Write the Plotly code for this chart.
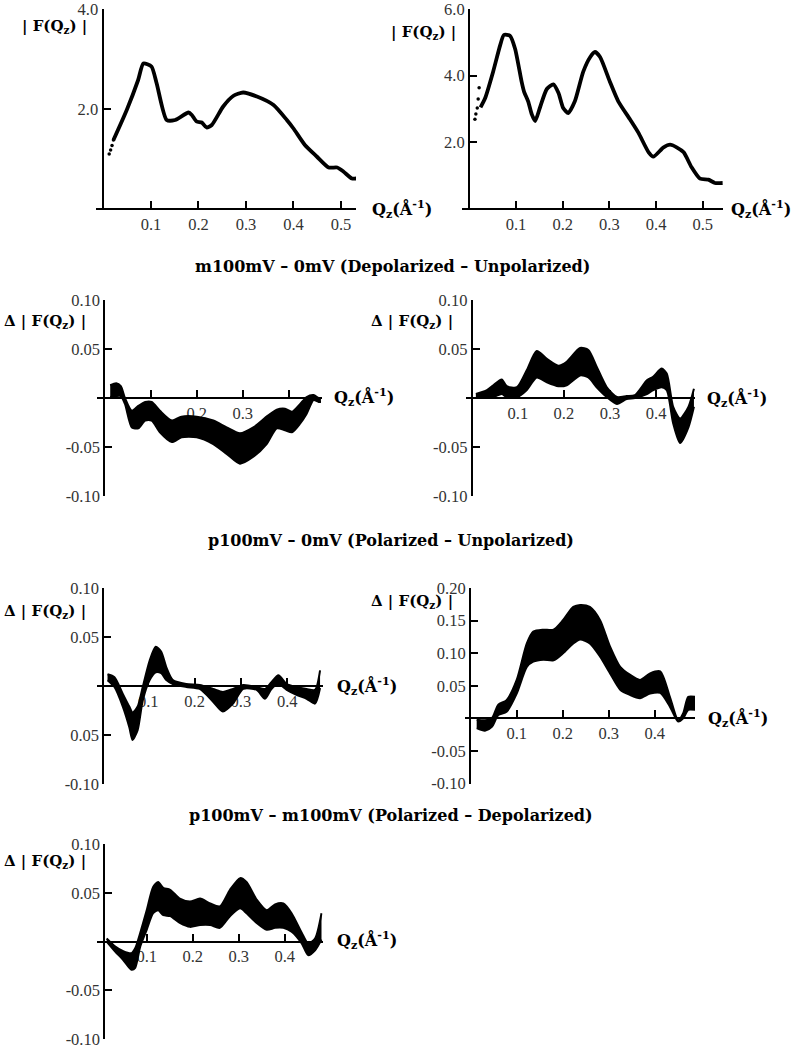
import plotly.graph_objects as go

W, H = 796, 1049

# ---------------- data ----------------
# Panel 1: |F(Qz)| (left)
q1_dots = [0.012, 0.015, 0.018, 0.021]
f1_dots = [1.10, 1.18, 1.27, 1.38]
q1 = [0.021, 0.049, 0.073, 0.084, 0.101, 0.112, 0.133, 0.151, 0.179, 0.186, 0.196, 0.207,
      0.217, 0.228, 0.252, 0.273, 0.294, 0.323, 0.358, 0.386, 0.400, 0.424, 0.449, 0.474,
      0.492, 0.505, 0.523, 0.532]
f1 = [1.38, 1.98, 2.58, 2.91, 2.85, 2.51, 1.78, 1.78, 1.93, 1.88, 1.75, 1.73,
      1.63, 1.68, 2.05, 2.26, 2.33, 2.25, 2.08, 1.78, 1.61, 1.28, 1.05, 0.83,
      0.83, 0.75, 0.61, 0.61]

# Panel 2: |F(Qz)| (right)
q2_dots = [0.012, 0.014, 0.017, 0.019, 0.021]
f2_dots = [2.69, 2.85, 3.03, 3.30, 3.64]
q2 = [0.024, 0.034, 0.051, 0.066, 0.074, 0.087, 0.098, 0.112, 0.117, 0.126, 0.134, 0.141,
      0.151, 0.166, 0.180, 0.191, 0.201, 0.212, 0.226, 0.244, 0.259, 0.269, 0.280, 0.301,
      0.319, 0.344, 0.362, 0.384, 0.394, 0.416, 0.430, 0.444, 0.459, 0.476, 0.494, 0.512,
      0.526, 0.543]
f2 = [3.05, 3.33, 4.12, 4.91, 5.22, 5.20, 4.81, 3.82, 3.53, 3.23, 2.83, 2.64,
      3.03, 3.60, 3.74, 3.48, 3.03, 2.88, 3.23, 4.12, 4.56, 4.71, 4.56, 3.82,
      3.23, 2.69, 2.29, 1.70, 1.57, 1.85, 1.93, 1.85, 1.70, 1.25, 0.91, 0.88,
      0.78, 0.78]

# Panel 3: m100mV - 0mV (left) band
q3 = [0.012, 0.025, 0.035, 0.044, 0.059, 0.073, 0.088, 0.102, 0.120, 0.146, 0.167, 0.200,
      0.236, 0.265, 0.294, 0.323, 0.352, 0.374, 0.392, 0.407, 0.425, 0.439, 0.454, 0.465, 0.470]
hi3 = [0.013, 0.015, 0.012, 0.000, -0.013, -0.008, -0.004, -0.004, -0.013, -0.023, -0.019, -0.019,
       -0.023, -0.030, -0.036, -0.030, -0.019, -0.012, -0.011, -0.014, -0.006, 0.001, 0.003, 0.000, 0.000]
lo3 = [0.001, 0.002, 0.002, -0.006, -0.030, -0.031, -0.023, -0.023, -0.035, -0.045, -0.040, -0.040,
       -0.047, -0.057, -0.067, -0.060, -0.047, -0.031, -0.033, -0.035, -0.026, -0.016, -0.002, -0.004, -0.004]

# Panel 4: m100mV - 0mV (right) band
q4 = [0.009, 0.033, 0.047, 0.065, 0.076, 0.098, 0.119, 0.141, 0.163, 0.188, 0.206, 0.235,
      0.253, 0.271, 0.293, 0.315, 0.336, 0.354, 0.380, 0.394, 0.412, 0.423, 0.437, 0.452, 0.470, 0.482]
hi4 = [0.004, 0.008, 0.013, 0.019, 0.012, 0.011, 0.028, 0.048, 0.040, 0.033, 0.037, 0.051,
       0.049, 0.032, 0.011, 0.001, 0.002, 0.003, 0.018, 0.022, 0.030, 0.025, -0.009, -0.021, -0.009, 0.0095]
lo4 = [0.000, 0.001, 0.001, 0.004, 0.001, 0.001, 0.008, 0.021, 0.016, 0.012, 0.013, 0.023,
       0.021, 0.011, 0.001, -0.006, -0.001, 0.000, 0.004, 0.008, 0.011, 0.008, -0.026, -0.046, -0.030, -0.009]

# Panel 5: p100mV - 0mV (left) band
q5 = [0.012, 0.027, 0.045, 0.059, 0.066, 0.077, 0.088, 0.103, 0.116, 0.128, 0.139, 0.153,
      0.182, 0.211, 0.240, 0.261, 0.283, 0.305, 0.334, 0.352, 0.366, 0.381, 0.399, 0.420,
      0.442, 0.460, 0.471]
hi5 = [0.012, 0.009, -0.008, -0.021, -0.027, -0.021, -0.001, 0.026, 0.040, 0.035, 0.019, 0.006,
       0.002, 0.001, -0.003, -0.006, -0.003, 0.001, -0.001, -0.003, 0.004, 0.011, 0.002, -0.001,
       -0.003, -0.004, 0.016]
lo5 = [0.006, -0.001, -0.021, -0.042, -0.055, -0.045, -0.015, 0.006, 0.014, 0.013, 0.006, 0.002,
       -0.001, -0.003, -0.016, -0.026, -0.018, -0.003, -0.004, -0.013, -0.003, 0.002, -0.004, -0.009,
       -0.013, -0.018, -0.002]

# Panel 6: p100mV - 0mV (right) band
q6 = [0.013, 0.031, 0.046, 0.060, 0.078, 0.100, 0.122, 0.136, 0.158, 0.180, 0.201, 0.223,
      0.238, 0.259, 0.281, 0.303, 0.325, 0.346, 0.368, 0.390, 0.412, 0.433, 0.451, 0.462,
      0.473, 0.488]
hi6 = [-0.002, -0.003, 0.000, 0.021, 0.028, 0.059, 0.115, 0.133, 0.136, 0.136, 0.151, 0.171,
       0.174, 0.171, 0.151, 0.110, 0.079, 0.067, 0.059, 0.069, 0.072, 0.033, -0.003, 0.008,
       0.033, 0.033]
lo6 = [-0.015, -0.019, -0.013, 0.005, 0.010, 0.038, 0.079, 0.087, 0.090, 0.089, 0.100, 0.115,
       0.121, 0.115, 0.095, 0.069, 0.044, 0.036, 0.031, 0.038, 0.039, 0.018, -0.005, 0.000,
       0.013, 0.013]

# Panel 7: p100mV - m100mV band
q7 = [0.013, 0.031, 0.049, 0.067, 0.075, 0.086, 0.100, 0.114, 0.125, 0.136, 0.151, 0.172,
      0.194, 0.216, 0.238, 0.259, 0.281, 0.303, 0.317, 0.339, 0.361, 0.379, 0.397, 0.415,
      0.437, 0.451, 0.466, 0.480]
hi7 = [0.003, -0.005, -0.010, -0.012, -0.007, 0.009, 0.032, 0.056, 0.061, 0.055, 0.053, 0.044,
       0.041, 0.044, 0.039, 0.036, 0.053, 0.065, 0.061, 0.043, 0.032, 0.038, 0.039, 0.029,
       0.009, -0.002, 0.003, 0.029]
lo7 = [0.000, -0.010, -0.019, -0.029, -0.027, -0.005, 0.012, 0.029, 0.032, 0.027, 0.026, 0.019,
       0.015, 0.017, 0.017, 0.014, 0.026, 0.034, 0.029, 0.019, 0.012, 0.014, 0.014, 0.010,
       -0.002, -0.014, -0.009, 0.002]

# tick labels
xt_top = [0.1, 0.2, 0.3, 0.4, 0.5]
xt_top_text = ["0.1", "0.2", "0.3", "0.4", "0.5"]
xt_d = [0.1, 0.2, 0.3, 0.4]
xt_d_text = ["0.1", "0.2", "0.3", "0.4"]
yt1 = [2.0, 4.0]; yt1_text = ["2.0", "4.0"]
yt2 = [2.0, 4.0, 6.0]; yt2_text = ["2.0", "4.0", "6.0"]
ytd = [-0.10, -0.05, 0.05, 0.10]; ytd_text = ["-0.10", "-0.05", "0.05", "0.10"]
ytd5_text = ["-0.10", "0.05", "0.05", "0.10"]
yt6 = [-0.10, -0.05, 0.05, 0.10, 0.15, 0.20]
yt6_text = ["-0.10", "-0.05", "0.05", "0.10", "0.15", "0.20"]

titles = ["m100mV – 0mV (Depolarized – Unpolarized)",
          "p100mV – 0mV (Polarized – Unpolarized)",
          "p100mV – m100mV (Polarized – Depolarized)"]

# ---------------- geometry (reference pixels) ----------------
panels = [
    dict(left=96.4, right=356.0, x0=-0.0149, x1=0.5316, yax=102.5, top=9, bottom=209, y0=0, y1=4.0,
         yt=yt1, ytt=yt1_text, xt=xt_top, xtt=xt_top_text),
    dict(left=461.7, right=722.7, x0=-0.0163, x1=0.5426, yax=469.0, top=9, bottom=209, y0=0, y1=6.0,
         yt=yt2, ytt=yt2_text, xt=xt_top, xtt=xt_top_text),
    dict(left=96.7, right=321.7, x0=-0.0174, x1=0.4717, yax=104.3, top=300, bottom=496, y0=-0.1, y1=0.1,
         yt=ytd, ytt=ytd_text, xt=xt_d, xtt=xt_d_text),
    dict(left=466.0, right=695.0, x0=-0.0124, x1=0.4843, yax=471.7, top=300, bottom=496, y0=-0.1, y1=0.1,
         yt=ytd, ytt=ytd_text, xt=xt_d, xtt=xt_d_text),
    dict(left=96.7, right=322.7, x0=-0.0114, x1=0.4767, yax=103.3, top=588, bottom=784, y0=-0.1, y1=0.1,
         yt=ytd, ytt=ytd5_text, xt=xt_d, xtt=xt_d_text),
    dict(left=465.0, right=695.0, x0=-0.0124, x1=0.4876, yax=470.0, top=588, bottom=783.5, y0=-0.1, y1=0.2,
         yt=yt6, ytt=yt6_text, xt=xt_d, xtt=xt_d_text),
    dict(left=96.7, right=322.7, x0=-0.0087, x1=0.4826, yax=104.3, top=844, bottom=1039, y0=-0.1, y1=0.1,
         yt=ytd, ytt=ytd_text, xt=xt_d, xtt=xt_d_text),
]

def fx(px):
    return px / W

def fy(py):
    return 1 - py / H

fig = go.Figure()
layout = {}
tick_font = dict(family="Liberation Serif", size=16.5, color="#333333")

for i, p in enumerate(panels, start=1):
    xa = "xaxis" if i == 1 else f"xaxis{i}"
    ya = "yaxis" if i == 1 else f"yaxis{i}"
    yd0 = fy(p["bottom"])
    yd1 = fy(p["top"])
    zero_frac = (0 - p["y0"]) / (p["y1"] - p["y0"])
    xpos = yd0 + zero_frac * (yd1 - yd0)
    layout[xa] = dict(domain=[fx(p["left"]), fx(p["right"])], range=[p["x0"], p["x1"]],
                      anchor="free", position=xpos, showline=True, linecolor="black", linewidth=2,
                      ticks="inside", ticklen=7, tickwidth=1.5, tickcolor="black",
                      tickvals=p["xt"], ticktext=p["xtt"], tickfont=tick_font, automargin=False,
                      ticklabeloverflow="allow",
                      showgrid=False, zeroline=False, layer="below traces", fixedrange=True)
    layout[ya] = dict(domain=[yd0, yd1], range=[p["y0"], p["y1"]],
                      anchor="free", position=fx(p["yax"]), showline=True, linecolor="black", linewidth=2,
                      ticks="inside", ticklen=7, tickwidth=1.5, tickcolor="black",
                      tickvals=p["yt"], ticktext=p["ytt"], tickfont=tick_font, automargin=False,
                      ticklabeloverflow="allow", autoshift=False, shift=0,
                      showgrid=False, zeroline=False, layer="below traces", fixedrange=True)

def ax(i):
    return ("x" if i == 1 else f"x{i}", "y" if i == 1 else f"y{i}")

# top curves
for i, (qd, fd, q, f) in enumerate([(q1_dots, f1_dots, q1, f1), (q2_dots, f2_dots, q2, f2)], start=1):
    xr, yr = ax(i)
    fig.add_trace(go.Scatter(x=qd, y=fd, mode="markers", marker=dict(color="black", size=3.5),
                             xaxis=xr, yaxis=yr, showlegend=False, hoverinfo="skip"))
    fig.add_trace(go.Scatter(x=q, y=f, mode="lines", line=dict(color="black", width=3.8, shape="spline", smoothing=0.6),
                             xaxis=xr, yaxis=yr, showlegend=False, hoverinfo="skip"))

# bands
bands = [(q3, lo3, hi3), (q4, lo4, hi4), (q5, lo5, hi5), (q6, lo6, hi6), (q7, lo7, hi7)]
for k, (q, lo, hi) in enumerate(bands, start=3):
    xr, yr = ax(k)
    fig.add_trace(go.Scatter(x=q, y=lo, mode="lines", line=dict(color="black", width=2, shape="spline", smoothing=0.7),
                             xaxis=xr, yaxis=yr, showlegend=False, hoverinfo="skip"))
    fig.add_trace(go.Scatter(x=q, y=hi, mode="lines", line=dict(color="black", width=2, shape="spline", smoothing=0.7),
                             fill="tonexty", fillcolor="black",
                             xaxis=xr, yaxis=yr, showlegend=False, hoverinfo="skip"))

# text
lab_font = dict(family="DejaVu Serif", size=15, color="black")
xlab_font = dict(family="DejaVu Serif", size=16, color="black")
title_font = dict(family="DejaVu Serif", size=16, color="black")
annots = []
def ann(text, px, py, font):
    annots.append(dict(text=text, x=fx(px), y=fy(py), xref="paper", yref="paper",
                       xanchor="center", yanchor="middle", showarrow=False, font=font))

ann(f"<b>{titles[0]}</b>", 392, 267, title_font)
ann(f"<b>{titles[1]}</b>", 391, 540, title_font)
ann(f"<b>{titles[2]}</b>", 391, 815, title_font)

ylab = "<b>| F(Q<sub>z</sub>) |</b>"
dylab = "<b>Δ | F(Q<sub>z</sub>) |</b>"
xlab = "<b>Q<sub>z</sub>(Å<sup>-1</sup>)</b>"
ann(ylab, 54, 27, lab_font)
ann(ylab, 423, 33, lab_font)
for (px, py) in [(45, 321), (412, 321), (45, 611), (412, 601), (45, 861)]:
    ann(dylab, px, py, lab_font)
for (px, py) in [(402, 209), (761, 209), (364, 397), (737, 398), (367, 686), (738, 718), (367, 940)]:
    ann(xlab, px, py, xlab_font)

fig.update_layout(width=W, height=H, autosize=False,
                  margin=dict(l=0, r=0, t=0, b=0, pad=0, autoexpand=False),
                  paper_bgcolor="white", plot_bgcolor="rgba(0,0,0,0)",
                  showlegend=False, annotations=annots, **layout)

# remove the browser's default 8px body margin so the figure fills the window exactly
fig.write_html("out.html", config={"displayModeBar": False, "responsive": False},
               post_script="document.body.style.margin='0';document.body.style.overflow='hidden';")
